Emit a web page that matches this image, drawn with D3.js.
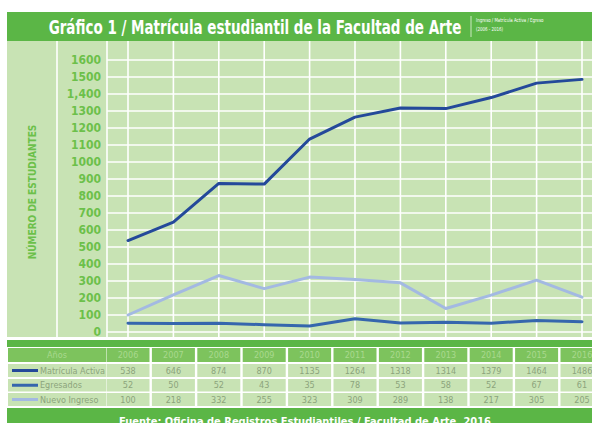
<!DOCTYPE html>
<html>
<head>
<meta charset="utf-8">
<script src="https://cdn.jsdelivr.net/npm/d3@7"></script>
<style>
  body { margin: 0; background: #fff; }
  svg { display: block; font-family: 'DejaVu Sans Condensed', 'Liberation Sans Narrow', sans-serif; }
</style>
</head>
<body>
<div id="chart"></div>
<script>
const years = ['2006', '2007', '2008', '2009', '2010', '2011', '2012', '2013', '2014', '2015', '2016']
const matriculaActiva = [538, 646, 874, 870, 1135, 1264, 1318, 1314, 1379, 1464, 1486]
const egresados = [52, 50, 52, 43, 35, 78, 53, 58, 52, 67, 61]
const nuevoIngreso = [100, 218, 332, 255, 323, 309, 289, 138, 217, 305, 205]
const yTicks = [0, 100, 200, 300, 400, 500, 600, 700, 800, 900, 1000, 1100, 1200, 1300, 1400, 1500, 1600]
const yTickLabels = ['0', '100', '200', '300', '400', '500', '600', '700', '800', '900', '1000', '1100', '1200', '1300', '1,400', '1500', '1600']

const series = [
  { name: 'Matrícula Activa', values: matriculaActiva, color: '#24499a' },
  { name: 'Egresados', values: egresados, color: '#3566ad' },
  { name: 'Nuevo Ingreso', values: nuevoIngreso, color: '#a3b9e2' }
]

const width = 592
const height = 423
const green = '#5bb646'
const panel = '#c8e3b4'
const labelGreen = '#6cc04a'

const svg = d3.select('#chart').append('svg')
  .attr('width', width)
  .attr('height', height)

const x = d3.scalePoint().domain(years).range([128, 582])
const y = d3.scaleLinear().domain([0, 1600]).range([332, 60])

// title bar
svg.append('rect').attr('x', 7).attr('y', 12).attr('width', width - 7).attr('height', 29).attr('fill', green)

// condensed look: squeeze the text horizontally
const title = svg.append('g').attr('transform', 'translate(255,34) scale(0.75,1)')
title.append('text')
  .attr('text-anchor', 'middle')
  .attr('fill', '#fff')
  .attr('font-size', 20)
  .attr('font-weight', 'bold')
  .text('Gráfico 1 / Matrícula estudiantil de la Facultad de Arte')

svg.append('line').attr('x1', 471).attr('x2', 471).attr('y1', 16).attr('y2', 37)
  .attr('stroke', '#e8f5e0').attr('stroke-width', 0.8)
const sub = svg.append('g').attr('transform', 'translate(476,0) scale(0.8,1)')
sub.append('text')
  .attr('y', 22.5)
  .attr('fill', '#fff').attr('font-size', 5.5)
  .text('Ingreso / Matrícula Activa / Egreso')
sub.append('text')
  .attr('y', 31)
  .attr('fill', '#fff').attr('font-size', 5.5)
  .text('(2006 - 2016)')

// plot panel
svg.append('rect').attr('x', 7).attr('y', 41).attr('width', width - 7).attr('height', 296).attr('fill', panel)

const grid = svg.append('g').attr('stroke', '#fff').attr('stroke-width', 1.6)
grid.selectAll('.hgrid')
  .data(yTicks)
  .enter()
  .append('line')
  .attr('class', 'hgrid')
  .attr('x1', 107).attr('x2', width)
  .attr('y1', d => y(d)).attr('y2', d => y(d))
grid.selectAll('.vgrid')
  .data(years)
  .enter()
  .append('line')
  .attr('class', 'vgrid')
  .attr('x1', d => x(d)).attr('x2', d => x(d))
  .attr('y1', 41).attr('y2', 337)
grid.selectAll('.sep')
  .data([57, 107])
  .enter()
  .append('line')
  .attr('x1', d => d).attr('x2', d => d)
  .attr('y1', 41).attr('y2', 337)

// y axis labels
const yAxis = d3.axisLeft(y)
  .tickValues(yTicks)
  .tickFormat((d, i) => yTickLabels[i])
  .tickSize(0)
  .tickPadding(6)
const yAxisG = svg.append('g').attr('transform', 'translate(107,0)').call(yAxis)
yAxisG.select('.domain').remove()
yAxisG.selectAll('text')
  .attr('fill', labelGreen)
  .attr('font-size', 12)
  .attr('font-weight', 'bold')
  .attr('font-family', "'DejaVu Sans Condensed', sans-serif")

svg.append('text')
  .attr('transform', 'translate(36,192) rotate(-90)')
  .attr('text-anchor', 'middle')
  .attr('fill', labelGreen)
  .attr('font-size', 10)
  .attr('font-weight', 'bold')
  .text('NÚMERO DE ESTUDIANTES')

// lines
const line = d3.line()
  .x((d, i) => x(years[i]))
  .y(d => y(d))

svg.selectAll('.series')
  .data(series)
  .enter()
  .append('path')
  .attr('class', 'series')
  .attr('fill', 'none')
  .attr('stroke', d => d.color)
  .attr('stroke-width', 3)
  .attr('stroke-linejoin', 'round')
  .attr('stroke-linecap', 'round')
  .attr('d', d => line(d.values))

// table
svg.append('rect').attr('x', 7).attr('y', 340).attr('width', width - 7).attr('height', 7).attr('fill', green)

const colW = 43
const rows = [
  { y: 348, h: 14, fill: '#7dc35d', text: '#a9d98e', label: 'Años', values: years },
  { y: 364, h: 13, fill: panel, text: '#8ca47c', label: series[0].name, values: series[0].values, color: series[0].color },
  { y: 379, h: 12.5, fill: panel, text: '#8ca47c', label: series[1].name, values: series[1].values, color: series[1].color },
  { y: 393, h: 13, fill: panel, text: '#8ca47c', label: series[2].name, values: series[2].values, color: series[2].color }
]

const rowG = svg.selectAll('.row')
  .data(rows)
  .enter()
  .append('g')
  .attr('class', 'row')

rowG.each(function (r) {
  const g = d3.select(this)
  g.append('rect').attr('x', 8).attr('y', r.y).attr('width', 98).attr('height', r.h).attr('fill', r.fill)
  if (r.color) {
    g.append('line')
      .attr('x1', 12).attr('x2', 38)
      .attr('y1', r.y + r.h / 2).attr('y2', r.y + r.h / 2)
      .attr('stroke', r.color).attr('stroke-width', 3)
    g.append('text')
      .attr('x', 40).attr('y', r.y + r.h / 2 + 3)
      .attr('fill', r.text).attr('font-size', 9)
      .text(r.label)
  } else {
    g.append('text')
      .attr('x', 57).attr('y', r.y + r.h / 2 + 3)
      .attr('text-anchor', 'middle')
      .attr('fill', r.text).attr('font-size', 9)
      .text(r.label)
  }
  r.values.forEach((v, i) => {
    const cx = x(years[i])
    g.append('rect')
      .attr('x', cx - colW / 2).attr('y', r.y)
      .attr('width', colW).attr('height', r.h)
      .attr('fill', r.fill)
    g.append('text')
      .attr('x', cx).attr('y', r.y + r.h / 2 + 3)
      .attr('text-anchor', 'middle')
      .attr('fill', r.text).attr('font-size', 9)
      .text(v)
  })
})

// footer
svg.append('rect').attr('x', 7).attr('y', 408).attr('width', width - 7).attr('height', 15).attr('fill', green)
svg.append('text')
  .attr('x', 305).attr('y', 425)
  .attr('text-anchor', 'middle')
  .attr('fill', '#fff')
  .attr('font-size', 11)
  .attr('font-weight', 'bold')
  .text('Fuente: Oficina de Registros Estudiantiles / Facultad de Arte, 2016')
</script>
</body>
</html>
